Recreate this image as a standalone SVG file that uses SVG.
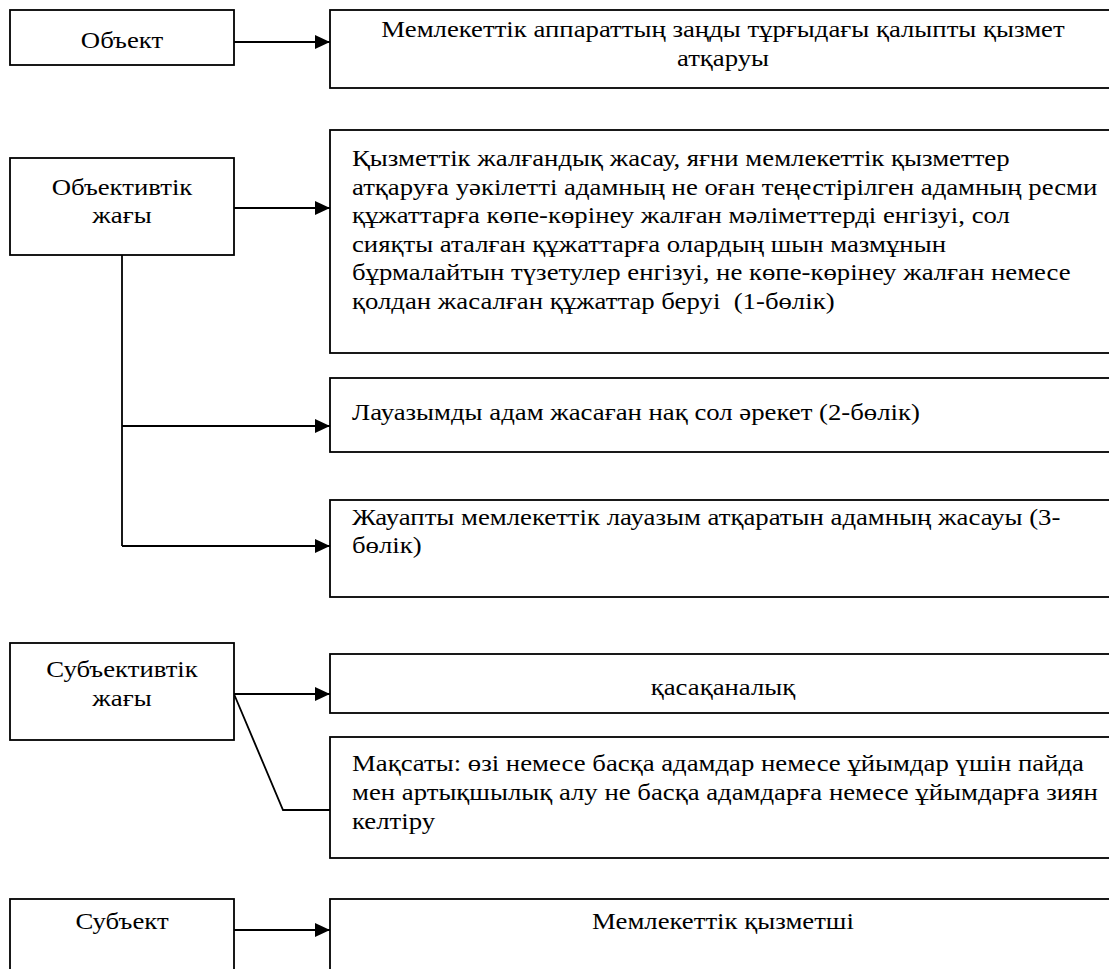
<svg xmlns="http://www.w3.org/2000/svg" width="1109" height="969" viewBox="0 0 1109 969">
<style>
.box{fill:#fff;stroke:#000;stroke-width:1.8}
.t{font-family:"Liberation Serif","Times New Roman",serif;font-size:24px;fill:#000}
.c{text-anchor:middle}
.ln{fill:none;stroke:#000;stroke-width:1.8}
</style>
<defs>
<marker id="ah" markerUnits="userSpaceOnUse" markerWidth="16" markerHeight="14" refX="15" refY="7" orient="auto">
<path d="M0,0 L15,7 L0,14 Z" fill="#000"/>
</marker>
</defs>
<rect width="1109" height="969" fill="#fff"/>
<g id="connectors">
<line class="ln" x1="234" y1="42" x2="330" y2="42" marker-end="url(#ah)"/>
<line class="ln" x1="234" y1="208" x2="330" y2="208" marker-end="url(#ah)"/>
<polyline class="ln" points="122,255 122,546"/>
<line class="ln" x1="122" y1="426" x2="330" y2="426" marker-end="url(#ah)"/>
<line class="ln" x1="122" y1="546" x2="330" y2="546" marker-end="url(#ah)"/>
<line class="ln" x1="234" y1="694" x2="330" y2="694" marker-end="url(#ah)"/>
<polyline class="ln" points="234,694 283,810 330,810"/>
<line class="ln" x1="234" y1="930" x2="330" y2="930" marker-end="url(#ah)"/>
</g>
<g id="n-obekt">
<rect class="box" x="10" y="10" width="224" height="55"/>
<text class="t c" x="0" y="48" transform="matrix(1.115 0 0 1 122 0)">Объект</text>
</g>
<g id="n-obekt-desc">
<rect class="box" x="330" y="10" width="800" height="78"/>
<text class="t c" x="0" y="37" transform="matrix(1.115 0 0 1 723 0)">Мемлекеттік аппараттың заңды тұрғыдағы қалыпты қызмет</text>
<text class="t c" x="0" y="66" transform="matrix(1.115 0 0 1 723 0)">атқаруы</text>
</g>
<g id="n-obektivtik">
<rect class="box" x="10" y="158" width="224" height="97"/>
<text class="t c" x="0" y="195" transform="matrix(1.115 0 0 1 122 0)">Объективтік</text>
<text class="t c" x="0" y="223" transform="matrix(1.115 0 0 1 122 0)">жағы</text>
</g>
<g id="n-part1">
<rect class="box" x="330" y="130" width="800" height="223"/>
<g transform="matrix(1.115 0 0 1 352 0)">
<text class="t" x="0" y="166">Қызметтік жалғандық жасау, яғни мемлекеттік қызметтер</text>
<text class="t" x="0" y="195">атқаруға уәкілетті адамның не оған теңестірілген адамның ресми</text>
<text class="t" x="0" y="223">құжаттарға көпе-көрінеу жалған мәліметтерді енгізуі, сол</text>
<text class="t" x="0" y="252">сияқты аталған құжаттарға олардың шын мазмұнын</text>
<text class="t" x="0" y="280">бұрмалайтын түзетулер енгізуі, не көпе-көрінеу жалған немесе</text>
<text class="t" x="0" y="309">қолдан жасалған құжаттар беруі&#160; (1-бөлік)</text>
</g>
</g>
<g id="n-part2">
<rect class="box" x="330" y="378" width="800" height="74"/>
<text class="t" x="0" y="420" transform="matrix(1.115 0 0 1 352 0)">Лауазымды адам жасаған нақ сол әрекет (2-бөлік)</text>
</g>
<g id="n-part3">
<rect class="box" x="330" y="500" width="800" height="97"/>
<g transform="matrix(1.115 0 0 1 352 0)">
<text class="t" x="0" y="525">Жауапты мемлекеттік лауазым атқаратын адамның жасауы (3-</text>
<text class="t" x="0" y="553">бөлік)</text>
</g>
</g>
<g id="n-subektivtik">
<rect class="box" x="10" y="643" width="224" height="97"/>
<text class="t c" x="0" y="677" transform="matrix(1.115 0 0 1 122 0)">Субъективтік</text>
<text class="t c" x="0" y="706" transform="matrix(1.115 0 0 1 122 0)">жағы</text>
</g>
<g id="n-kasakana">
<rect class="box" x="330" y="654" width="800" height="59"/>
<text class="t c" x="0" y="695" transform="matrix(1.115 0 0 1 723 0)">қасақаналық</text>
</g>
<g id="n-maksat">
<rect class="box" x="330" y="737" width="800" height="121"/>
<g transform="matrix(1.115 0 0 1 352 0)">
<text class="t" x="0" y="771">Мақсаты: өзі немесе басқа адамдар немесе ұйымдар үшін пайда</text>
<text class="t" x="0" y="800">мен артықшылық алу не басқа адамдарға немесе ұйымдарға зиян</text>
<text class="t" x="0" y="829">келтіру</text>
</g>
</g>
<g id="n-subekt">
<rect class="box" x="10" y="899" width="224" height="120"/>
<text class="t c" x="0" y="929" transform="matrix(1.115 0 0 1 122 0)">Субъект</text>
</g>
<g id="n-subekt-desc">
<rect class="box" x="330" y="899" width="800" height="120"/>
<text class="t c" x="0" y="929" transform="matrix(1.115 0 0 1 723 0)">Мемлекеттік қызметші</text>
</g>
</svg>
